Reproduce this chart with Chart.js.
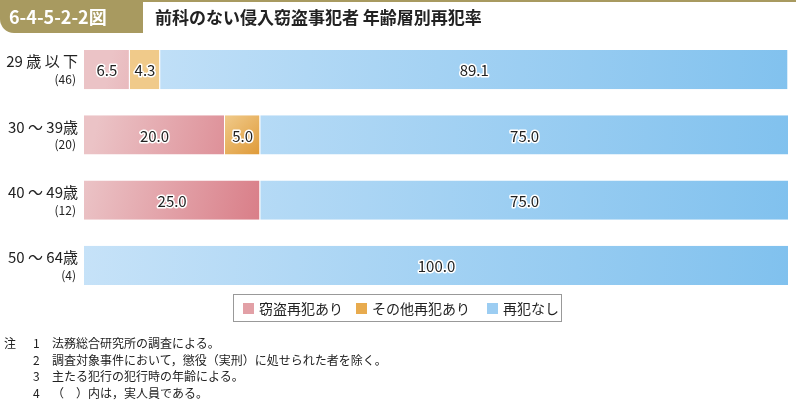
<!DOCTYPE html>
<html>
<head>
<meta charset="utf-8"/>
<script src="https://cdn.jsdelivr.net/npm/chart.js@4/dist/chart.umd.min.js"></script>
<style>
	body { margin:0; background:#fff; font-family:"Noto Sans CJK JP","Noto Sans",sans-serif; }
	#wrap { position:relative; width:796px; height:402px; overflow:hidden; }
	#chart { position:absolute; left:0; top:0; }
	#topline { position:absolute; left:0; top:0; width:796px; height:2px; background:#a89a60; }
	#tab { position:absolute; left:0; top:0; width:143px; height:33px; background:#a89a60; border-bottom-left-radius:14px;
		color:#fff; font-weight:bold; font-size:18px; line-height:33px; padding-left:9px; box-sizing:border-box; }
	#title { position:absolute; left:155px; top:5px; font-size:17px; font-weight:bold; color:#222; line-height:24px; }
	#legend { position:absolute; left:233px; top:294px; width:329px; height:28px; border:1px solid #999; box-sizing:border-box;
		font-size:14px; color:#222; }
	#legend span.sq { position:absolute; top:8px; width:11px; height:11px; }
	#legend span.tx { position:absolute; top:3px; line-height:20px; }
	.note { position:absolute; font-size:12px; color:#222; line-height:16px; white-space:nowrap; }
</style>
</head>
<body>
<div id="wrap">
	<canvas id="chart" width="796" height="402"></canvas>
	<div id="topline"></div>
	<div id="tab">6-4-5-2-2図</div>
	<div id="title">前科のない侵入窃盗事犯者 年齢層別再犯率</div>
	<div id="legend">
		<span class="sq" style="left:9px;background:#e2a0a6"></span><span class="tx" style="left:25px">窃盗再犯あり</span>
		<span class="sq" style="left:122px;background:#e8ab4e"></span><span class="tx" style="left:138px">その他再犯あり</span>
		<span class="sq" style="left:253px;background:#9ccdf2"></span><span class="tx" style="left:269px">再犯なし</span>
	</div>
	<div id="notes"></div>
</div>
<script>
	// データ
	var categories = ["29 歳 以 下", "30 ～ 39歳", "40 ～ 49歳", "50 ～ 64歳"];
	var counts = ["(46)", "(20)", "(12)", "(4)"];
	var seriesNames = ["窃盗再犯あり", "その他再犯あり", "再犯なし"];
	var theft = [6.5, 20.0, 25.0, 0];
	var other = [4.3, 5.0, 0, 0];
	var none = [89.1, 75.0, 75.0, 100.0];
	var notes = [
		["注", "1", "法務総合研究所の調査による。"],
		["", "2", "調査対象事件において，懲役（実刑）に処せられた者を除く。"],
		["", "3", "主たる犯行の犯行時の年齢による。"],
		["", "4", "（　）内は，実人員である。"]
	];

	var nbox = document.getElementById("notes");
	var html = "";
	for (var i = 0; i < notes.length; i++) {
		var ny = 335 + i * 16.7;
		html += '<div class="note" style="left:4px;top:' + ny + 'px">' + notes[i][0] + '</div>' +
			'<div class="note" style="left:33px;top:' + ny + 'px">' + notes[i][1] + '</div>' +
			'<div class="note" style="left:52px;top:' + ny + 'px">' + notes[i][2] + '</div>';
	}
	nbox.innerHTML = html;

	var gradColors = [["#ebc3c6", "#d97e88"], ["#f0ca8a", "#df9a38"], ["#c6e2f8", "#80c1ee"]];

	// 各セグメントをグラデーションで塗る
	var gradientPlugin = {
		id: "grad",
		beforeDatasetDraw: function(chart, args) {
			var ctx = chart.ctx;
			var cols = gradColors[args.index];
			args.meta.data.forEach(function(el) {
				var x0 = Math.min(el.base, el.x), x1 = Math.max(el.base, el.x);
				if (x1 - x0 < 1) return;
				var y0 = el.y - el.height / 2;
				var g = ctx.createLinearGradient(x0, y0, x1, y0 + el.height);
				g.addColorStop(0, cols[0]);
				g.addColorStop(1, cols[1]);
				el.options.backgroundColor = g;
			});
		}
	};

	// 数値ラベルと縦軸ラベル
	var labelPlugin = {
		id: "labels",
		afterDatasetsDraw: function(chart) {
			var ctx = chart.ctx;
			ctx.save();
			ctx.textAlign = "center";
			ctx.textBaseline = "middle";
			ctx.font = "15px 'Noto Sans CJK JP'";
			ctx.lineJoin = "round";
			chart.data.datasets.forEach(function(ds, di) {
				chart.getDatasetMeta(di).data.forEach(function(el, i) {
					if (!ds.data[i]) return;
					var cx = (el.x + el.base) / 2;
					var t = ds.data[i].toFixed(1);
					ctx.lineWidth = 3;
					ctx.strokeStyle = "#fff";
					ctx.strokeText(t, cx, el.y + 1);
					ctx.fillStyle = "#222";
					ctx.fillText(t, cx, el.y + 1);
				});
			});
			var ys = chart.scales.y;
			ctx.textAlign = "right";
			ctx.fillStyle = "#222";
			for (var i = 0; i < categories.length; i++) {
				var y = ys.getPixelForValue(i);
				ctx.font = "15px 'Noto Sans CJK JP'";
				ctx.fillText(categories[i], 78, y - 8);
				ctx.font = "12px 'Noto Sans CJK JP'";
				ctx.fillText(counts[i], 76, y + 10);
			}
			ctx.restore();
		}
	};

	var sets = [theft, other, none];
	var datasets = sets.map(function(d, i) {
		return {
			label: seriesNames[i],
			data: d,
			backgroundColor: gradColors[i][1],
			borderWidth: { right: 1 },
			borderColor: "#fff",
			borderSkipped: false,
			barPercentage: 0.6,
			categoryPercentage: 1.0
		};
	});

	new Chart(document.getElementById("chart").getContext("2d"), {
		type: "bar",
		data: { labels: categories, datasets: datasets },
		options: {
			indexAxis: "y",
			responsive: false,
			animation: false,
			layout: { padding: { left: 84, right: 7, top: 37, bottom: 104 } },
			plugins: { legend: { display: false }, tooltip: { enabled: false } },
			scales: {
				x: { stacked: true, min: 0, max: 100, display: false },
				y: { stacked: true, display: false }
			}
		},
		plugins: [gradientPlugin, labelPlugin]
	});
</script>
</body>
</html>
